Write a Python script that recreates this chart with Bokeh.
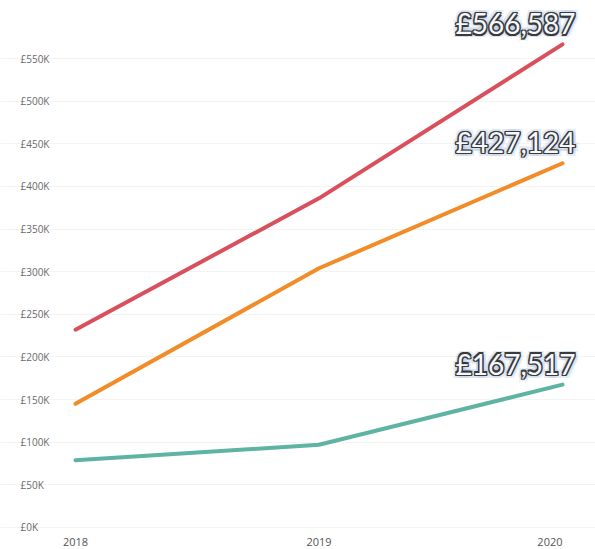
from bokeh.plotting import figure
from bokeh.models import ColumnDataSource, Range1d, Grid, FixedTicker
from bokeh.core.properties import value
from bokeh.embed import file_html
from bokeh.resources import INLINE

years = [2018, 2019, 2020]
series_red = [232000, 386000, 566587]
series_orange = [145000, 304000, 427124]
series_teal = [79000, 97000, 167517]
end_labels = ["£566,587", "£427,124", "£167,517"]
y_ticks = [0, 50000, 100000, 150000, 200000, 250000, 300000, 350000, 400000, 450000, 500000, 550000]
y_tick_labels = ["£0K", "£50K", "£100K", "£150K", "£200K", "£250K", "£300K", "£350K", "£400K", "£450K", "£500K", "£550K"]
x_tick_labels = ["2018", "2019", "2020"]

colors = ["#d94f5c", "#f28c28", "#5fb3a3"]

x0, x1 = 2017.692, 2020.1355
y0, y1 = -25800, 618019
p = figure(width=595, height=549, output_backend="svg", toolbar_location=None,
           x_axis_type=None, y_axis_type=None,
           x_range=Range1d(x0, x1), y_range=Range1d(y0, y1),
           min_border=0, min_border_left=0, min_border_right=0,
           min_border_top=0, min_border_bottom=0)
p.outline_line_color = None
p.background_fill_color = "white"
p.border_fill_color = "white"

grid = Grid(dimension=1, ticker=FixedTicker(ticks=y_ticks),
            grid_line_color="#f3f3f3", grid_line_width=1)
p.add_layout(grid)

for vals, c in zip([series_red, series_orange, series_teal], colors):
    p.line(years, vals, line_color=c, line_width=4, line_cap="round", line_join="round")

# y tick labels (left aligned)
ysrc = ColumnDataSource(dict(x=[x0] * len(y_ticks), y=y_ticks, t=y_tick_labels))
p.text("x", "y", text="t", source=ysrc, x_offset=20, text_align="left",
       text_baseline="middle", text_font=value("Open Sans"),
       text_font_size="10px", text_color="#6a6a6a")

# x tick labels
xsrc = ColumnDataSource(dict(x=years, y=[y0] * 3, t=x_tick_labels,
                             a=["center", "center", "right"]))
p.text("x", "y", text="t", source=xsrc, text_align="a", text_baseline="middle",
       y_offset=-8, text_font=value("Open Sans"), text_font_size="11px",
       text_color="#555555")

# end labels with outline and glow
ends = [series_red[-1], series_orange[-1], series_teal[-1]]
lsrc = ColumnDataSource(dict(x=[years[-1]] * 3, y=ends, t=end_labels))
font = value("Lato")
fs = "28px"
xo, yo = -47, -21
glow = [(dx, dy) for dx in (-3, 0, 3) for dy in (-3, 0, 3) if (dx, dy) != (0, 0)]
for dx, dy in glow:
    p.text("x", "y", text="t", source=lsrc, x_offset=xo + dx, y_offset=yo + dy,
           text_align="center", text_baseline="alphabetic", text_font=font,
           text_font_size=fs, text_color="#b9cde8", text_alpha=0.35, text_font_style="bold")
outline = [(dx, dy) for dx in (-1.2, 0, 1.2) for dy in (-1.2, 0, 1.2) if (dx, dy) != (0, 0)]
for dx, dy in outline:
    p.text("x", "y", text="t", source=lsrc, x_offset=xo + dx, y_offset=yo + dy,
           text_align="center", text_baseline="alphabetic", text_font=font,
           text_font_size=fs, text_color="#3a3a3a")
p.text("x", "y", text="t", source=lsrc, x_offset=xo, y_offset=yo,
       text_align="center", text_baseline="alphabetic", text_font=font,
       text_font_size=fs, text_color="#f6f8fc")

open("out.html", "w").write(file_html(p, INLINE))
